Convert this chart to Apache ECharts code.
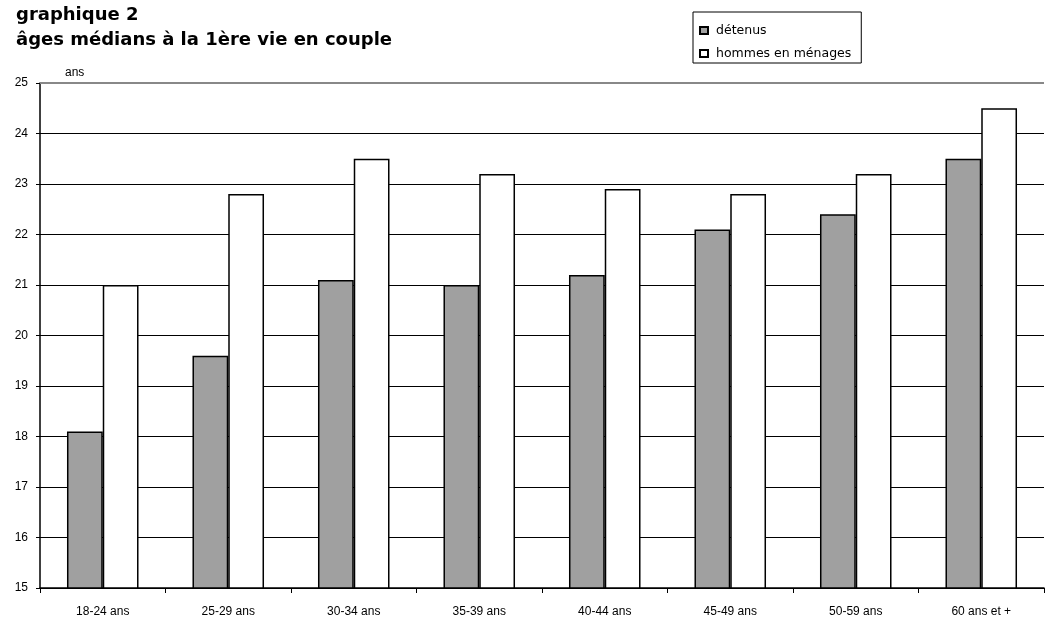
<!DOCTYPE html>
<html>
<head>
<meta charset="utf-8">
<script src="https://cdn.jsdelivr.net/npm/echarts@6/dist/echarts.min.js"></script>
<style>
  html, body { margin: 0; padding: 0; background: #fff; }
  #chart { width: 1050px; height: 619px; }
</style>
</head>
<body>
<div id="chart"></div>
<script>
// données
const categories = ["18-24 ans", "25-29 ans", "30-34 ans", "35-39 ans", "40-44 ans", "45-49 ans", "50-59 ans", "60 ans et +"];
const detenus = [18.1, 19.6, 21.1, 21.0, 21.2, 22.1, 22.4, 23.5];
const menages = [21.0, 22.8, 23.5, 23.2, 22.9, 22.8, 23.2, 24.5];

const font = "Liberation Sans, Arial, sans-serif";
const wide = "DejaVu Sans, sans-serif";
const chart = echarts.init(document.getElementById("chart"));

// lignes de grille noires, la ligne du haut (25) est tracée à part en gris
const gridColors = ["#000", "#000", "#000", "#000", "#000", "#000", "#000", "#000", "#000", "#000", "#fff"];

chart.setOption({
  animation: false,
  textStyle: { fontFamily: font },
  title: {
    text: "graphique 2\nâges médians à la 1ère vie en couple",
    left: 16,
    top: 3,
    padding: 0,
    textStyle: { fontSize: 18, fontWeight: "bold", color: "#000", lineHeight: 25, fontFamily: wide }
  },
  legend: {
    orient: "vertical",
    left: 693,
    top: 12,
    padding: [12, 10, 3, 6],
    itemGap: 10,
    itemWidth: 8,
    itemHeight: 7,
    icon: "rect",
    borderColor: "#000",
    borderWidth: 1,
    textStyle: { fontSize: 12.5, color: "#000", fontFamily: wide, padding: [0, 0, 0, 3] },
    data: ["détenus", "hommes en ménages"]
  },
  grid: { left: 40, right: 6, top: 83, bottom: 31 },
  xAxis: {
    type: "category",
    data: categories,
    axisLine: { lineStyle: { color: "#000", width: 1.5 } },
    axisTick: { show: true, length: 5, lineStyle: { color: "#000" } },
    axisLabel: { color: "#000", fontSize: 12, margin: 18 }
  },
  yAxis: {
    type: "value",
    min: 15,
    max: 25,
    interval: 1,
    name: "ans",
    nameLocation: "end",
    nameGap: 4,
    nameTextStyle: { color: "#000", fontSize: 12, align: "left", padding: [0, 0, 0, 25] },
    axisLine: { show: true, lineStyle: { color: "#000", width: 1.5 } },
    axisTick: { show: true, length: 4, lineStyle: { color: "#000" } },
    axisLabel: { color: "#000", fontSize: 12, margin: 12 },
    splitLine: { show: true, lineStyle: { color: gridColors, width: 1 } }
  },
  series: [
    {
      name: "détenus",
      type: "bar",
      data: detenus,
      barGap: "0%",
      barCategoryGap: "43%",
      itemStyle: { color: "#a0a0a0", borderColor: "#000", borderWidth: 1.5 },
      markLine: {
        silent: true,
        symbol: "none",
        label: { show: false },
        lineStyle: { color: "#888", width: 2, type: "solid" },
        data: [{ yAxis: 25 }]
      }
    },
    {
      name: "hommes en ménages",
      type: "bar",
      data: menages,
      itemStyle: { color: "#fff", borderColor: "#000", borderWidth: 1.5 }
    }
  ]
});
</script>
</body>
</html>
